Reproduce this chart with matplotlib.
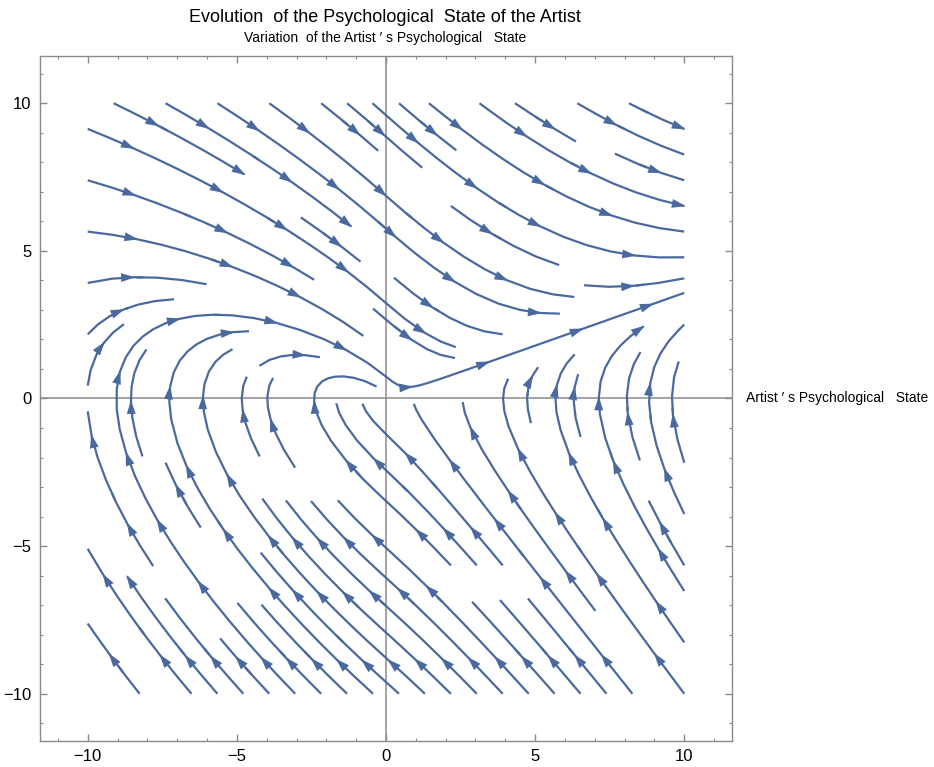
import numpy as np
import matplotlib.pyplot as plt
from matplotlib.ticker import MultipleLocator
from matplotlib.patches import FancyArrowPatch

plt.rcParams['font.family'] = ['Liberation Sans', 'DejaVu Sans']

# vector field: x' = y, y' = gain*|x| - damping*y
gain = 0.45
damping = 0.9
x_range = (-10, 10)
y_range = (-10, 10)
view = 11.6

ticks = [-10, -5, 0, 5, 10]
tick_labels = ['\u221210', '\u22125', '0', '5', '10']

title = 'Evolution  of the Psychological  State of the Artist'
xlabel = 'Artist \u2032 s Psychological   State'
ylabel = 'Variation  of the Artist \u2032 s Psychological   State'

stream_color = '#4a699e'
axis_color = '#8a8a8a'
arrow_step = 2.8   # arc length between arrow heads
arrow_first = 1.4


def split_paths(segments):
    # join consecutive pieces of streamplot output back into whole lines
    paths, cur = [], None
    for seg in segments:
        seg = np.asarray(seg)
        if cur is not None and np.allclose(seg[0], cur[-1]):
            cur.extend(seg[1:])
        else:
            if cur is not None:
                paths.append(np.array(cur))
            cur = list(seg)
    if cur is not None:
        paths.append(np.array(cur))
    return paths


def add_arrows(ax, path):
    d = np.hypot(*np.diff(path, axis=0).T)
    s = np.concatenate([[0], np.cumsum(d)])
    for pos in np.arange(arrow_first, s[-1] - 0.3, arrow_step):
        i = np.searchsorted(s, pos)
        i = min(max(i, 1), len(path) - 1)
        x, y = path[i]
        # direction from the field itself
        u, v = y, gain * abs(x) - damping * y
        n = np.hypot(u, v)
        if n == 0:
            continue
        tip = (x + 0.05 * u / n, y + 0.05 * v / n)
        ax.add_patch(FancyArrowPatch((x, y), tip,
                                     arrowstyle='-|>,head_length=0.5,head_width=0.16',
                                     mutation_scale=20, color=stream_color, lw=0,
                                     shrinkA=0, shrinkB=0, zorder=3))


fig = plt.figure(figsize=(9.34, 7.67), dpi=100)
ax = fig.add_axes([40 / 934, 1 - 741 / 767, 692 / 934, 685 / 767])

xs = np.linspace(x_range[0], x_range[1], 120)
ys = np.linspace(y_range[0], y_range[1], 120)
X, Y = np.meshgrid(xs, ys)
U = Y
V = gain * np.abs(X) - damping * Y

ax.axhline(0, color=axis_color, lw=1.1, zorder=1)
ax.axvline(0, color=axis_color, lw=1.1, zorder=1)

sp = ax.streamplot(X, Y, U, V, density=0.8, color=stream_color, linewidth=1.6,
                   arrowstyle='-', zorder=2)
for path in split_paths(sp.lines.get_segments()):
    add_arrows(ax, path)

ax.set_xlim(-view, view)
ax.set_ylim(-view, view)
ax.set_xticks(ticks)
ax.set_xticklabels(tick_labels)
ax.set_yticks(ticks)
ax.set_yticklabels(tick_labels)
ax.xaxis.set_minor_locator(MultipleLocator(1))
ax.yaxis.set_minor_locator(MultipleLocator(1))
ax.tick_params(which='both', direction='in', top=True, right=True,
               color=axis_color, labelsize=12, pad=6)
ax.tick_params(which='major', length=5, width=1)
ax.tick_params(which='minor', length=2.5, width=0.8)
for s in ax.spines.values():
    s.set_color(axis_color)
    s.set_linewidth(1)

fig.text(385 / 934, 1 - 17 / 767, title, ha='center', va='center', fontsize=13)
fig.text(385 / 934, 1 - 38 / 767, ylabel, ha='center', va='center', fontsize=10)
fig.text(746 / 934, 1 - 398 / 767, xlabel, ha='left', va='center', fontsize=10)

fig.savefig('out.png', dpi=100)
